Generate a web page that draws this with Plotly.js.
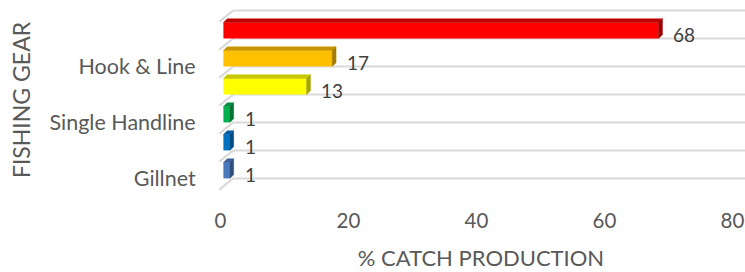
<!DOCTYPE html>
<html><head><meta charset="utf-8">
<script src="https://cdn.plot.ly/plotly-3.0.1.min.js"></script>
<style>html,body{margin:0;padding:0;background:#fff}#chart{width:745px;height:272px}</style>
</head><body><div id="chart"></div>
<script>
// Categories from bottom to top; Excel only shows every other label
var categories = ["Gillnet", "", "Single Handline", "", "Hook & Line", ""];
var values = [1, 1, 1, 13, 17, 68];
var frontColors = ["#4A78BC", "#0070C0", "#00B050", "#FFFF00", "#FFC000", "#FF0000"];
var topColors   = ["#3A6198", "#005C9E", "#009040", "#C8C800", "#C89600", "#C00000"];
var sideColors  = ["#2E4E7C", "#004C84", "#007434", "#A6A600", "#A67C00", "#A00000"];
var xTicks = [0, 20, 40, 60, 80];

var FACE_H = 0.57, DEPTH_X = 0.6, DEPTH_Y = 0.13;
var idx = categories.map(function(_, i){ return i; });

var traces = [{
  type: "bar", orientation: "h",
  x: values, y: idx.map(function(i){ return i + FACE_H/2; }),
  width: FACE_H, marker: {color: frontColors, line: {width: 0}},
  hoverinfo: "x"
}];
idx.forEach(function(i){
  var v = values[i];
  traces.push({type:"scatter", mode:"lines", fill:"toself", hoverinfo:"skip",
    x:[0, v, v+DEPTH_X, DEPTH_X, 0],
    y:[i+FACE_H, i+FACE_H, i+FACE_H+DEPTH_Y, i+FACE_H+DEPTH_Y, i+FACE_H],
    fillcolor: topColors[i], line:{width:0.5, color: topColors[i]}});
  traces.push({type:"scatter", mode:"lines", fill:"toself", hoverinfo:"skip",
    x:[v, v+DEPTH_X, v+DEPTH_X, v, v],
    y:[i, i+DEPTH_Y, i+FACE_H+DEPTH_Y, i+FACE_H, i],
    fillcolor: sideColors[i], line:{width:0.5, color: sideColors[i]}});
});

var shapes = [];
for (var k = 0; k <= categories.length; k++) {
  shapes.push({type:"line", xref:"x", yref:"y", x0:1.56, x1:81.5, y0:k, y1:k,
    line:{color:"#D9D9D9", width:2}, layer:"below"});
  shapes.push({type:"line", xref:"x", yref:"y", x0:-0.65, x1:1.56, y0:k-0.4, y1:k,
    line:{color:"#D9D9D9", width:2}, layer:"below"});
}

var annotations = idx.map(function(i){
  return {x: values[i] + DEPTH_X, y: i + 0.15, xref:"x", yref:"y",
    text: String(values[i]), showarrow:false, xanchor:"left", yanchor:"middle",
    xshift: 9, font:{family:"Lato", size:19, color:"#404040"}};
});

var layout = {
  width: 745, height: 272,
  margin: {l: 216.6, r: 0.4, t: 1.6, b: 74.4},
  paper_bgcolor: "#fff", plot_bgcolor: "#fff",
  showlegend: false,
  font: {family: "Lato", color: "#595959"},
  xaxis: {range: [-1, 81.5], tickvals: xTicks, ticktext: xTicks.map(String),
    showgrid: false, zeroline: false, showline: false,
    ticks: "outside", ticklen: 4, tickcolor: "rgba(0,0,0,0)",
    ticklabeloverflow: "allow", ticklabelshift: -3,
    tickfont: {family: "Lato", size: 20.5, color: "#595959"},
    title: {text: "% CATCH PRODUCTION", font: {family: "Lato", size: 22, color: "#595959"}, standoff: 20}},
  yaxis: {range: [-0.7, 6.3], tickvals: idx, ticktext: categories,
    showgrid: false, zeroline: false, showline: false,
    ticks: "outside", ticklen: 16, tickcolor: "rgba(0,0,0,0)",
    tickfont: {family: "Lato", size: 21.5, color: "#595959"},
    title: {text: "FISHING GEAR", font: {family: "Lato", size: 23, color: "#595959"}, standoff: 12}},
  shapes: shapes,
  annotations: annotations
};
Plotly.newPlot("chart", traces, layout, {staticPlot: true});
</script></body></html>
